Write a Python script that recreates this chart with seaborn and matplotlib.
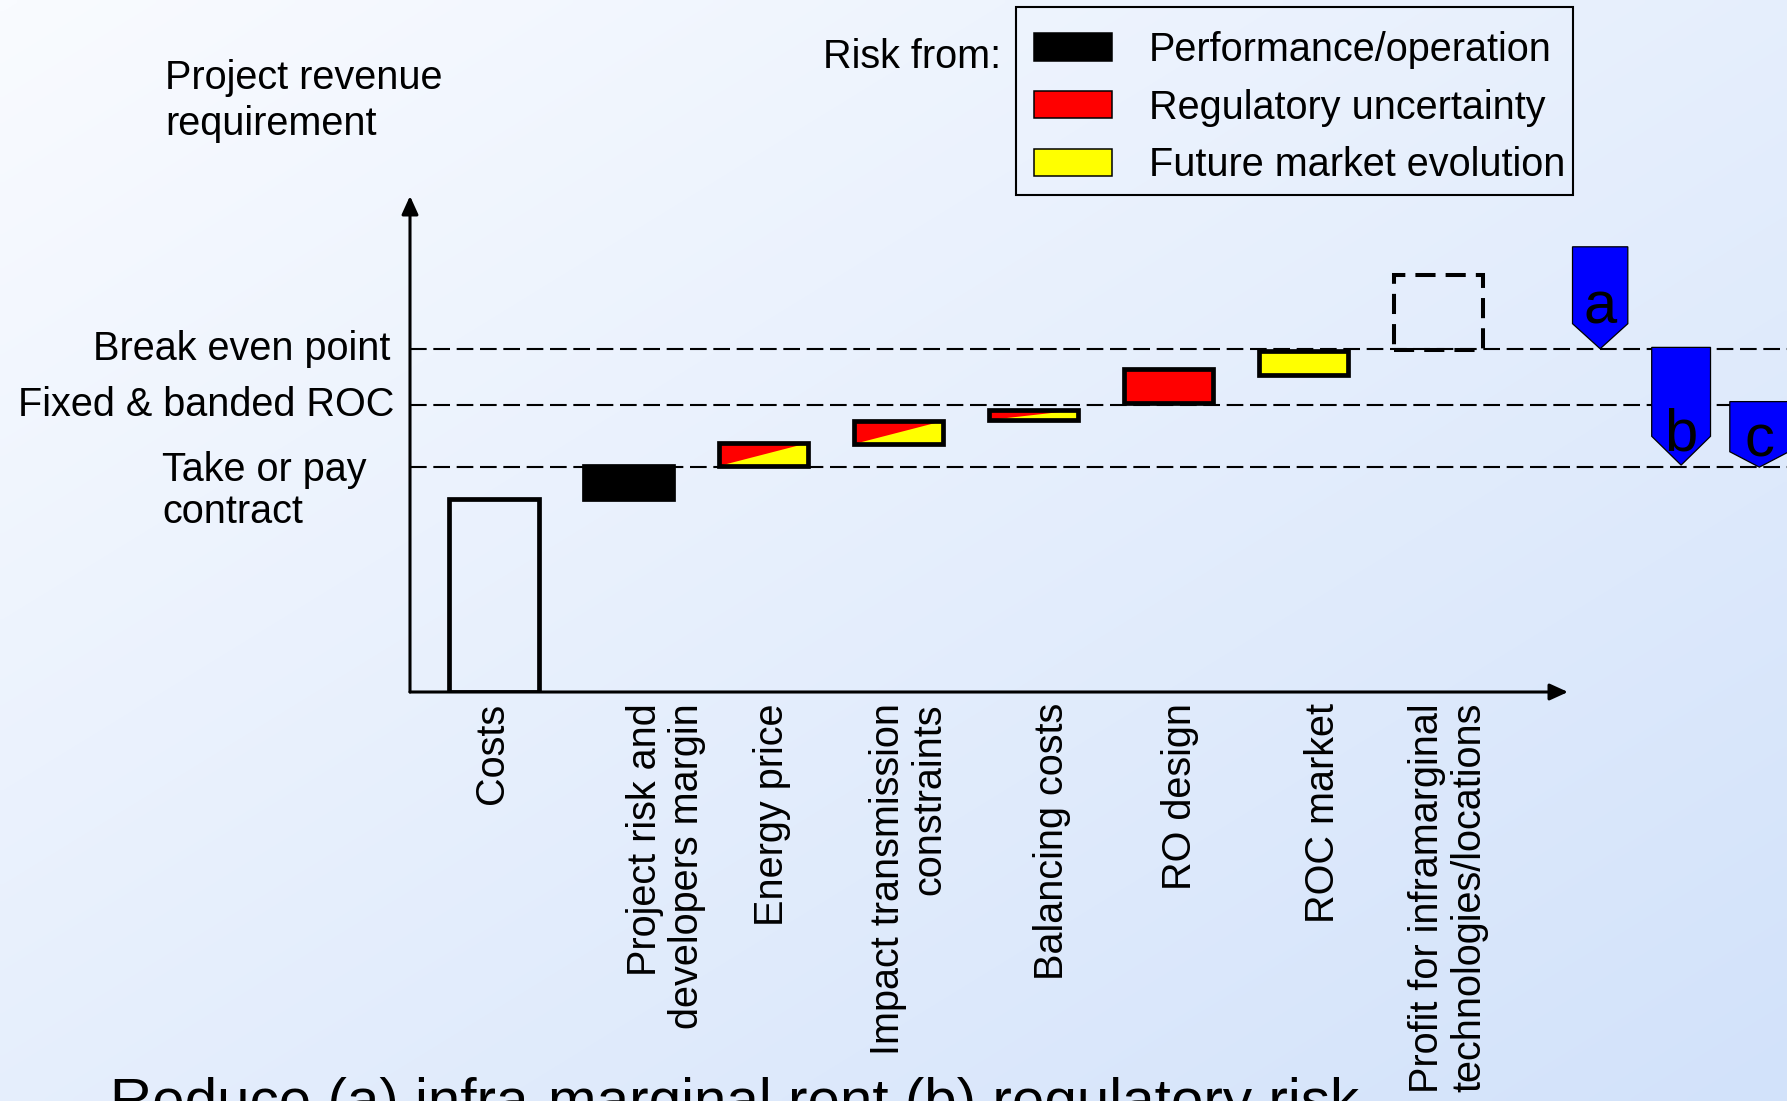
import numpy as np
import pandas as pd
import matplotlib
matplotlib.use("Agg")
import matplotlib.pyplot as plt
import matplotlib.transforms as mtransforms
from matplotlib.colors import LinearSegmentedColormap
from matplotlib.patches import Patch, Polygon, Rectangle
import seaborn as sns

# ---------------------------------------------------------------- data
categories = [
    "Costs",
    "Project risk and\ndevelopers margin",
    "Energy price",
    "Impact transmission\nconstraints",
    "Balancing costs",
    "RO design",
    "ROC market",
    "Profit for inframarginal\ntechnologies/locations",
]
step_start = [0.0, 56.1, 65.7, 72.2, 79.1, 84.3, 92.3, 99.7]
step_end = [56.1, 65.7, 72.4, 79.0, 82.3, 94.1, 99.2, 121.4]
risk_type = ["cost", "performance", "regulatory+market", "regulatory+market",
             "regulatory+market", "regulatory", "market", "inframarginal"]

threshold_labels = ["Break even point", "Fixed & banded ROC", "Take or pay\ncontract"]
threshold_levels = [100.0, 83.5, 65.5]

legend_labels = ["Performance/operation", "Regulatory uncertainty",
                 "Future market evolution"]

lever_letters = ["a", "b", "c"]
lever_from = [129.7, 100.4, 84.6]
lever_to = [100.0, 66.1, 65.5]

# ---------------------------------------------------------------- style
BLACK, RED, YELLOW, BLUE = "#000000", "#FF0000", "#FFFF00", "#0000FF"
FS = 28.5

sns.set_theme(style="white")
plt.rcParams["font.family"] = ["Liberation Sans", "DejaVu Sans"]
plt.rcParams["text.color"] = "black"
plt.rcParams["xtick.color"] = "black"

W, H, DPI = 1787, 1101, 100
fig = plt.figure(figsize=(W / DPI, H / DPI), dpi=DPI)

# soft diagonal backdrop
bg = fig.add_axes([0, 0, 1, 1], zorder=-5)
yy, xx = np.mgrid[0:1:200j, 0:1:300j]
bg.imshow((xx + yy) / 2, cmap=LinearSegmentedColormap.from_list("bg", ["#F9FBFF", "#D2E2FA"]),
          aspect="auto", extent=(0, 1, 0, 1), origin="upper", interpolation="bilinear")
bg.axis("off")

ax = fig.add_axes([410 / W, (H - 692) / H, (W - 410) / W, (692 - 196) / H])
ax.set_facecolor("none")

df = pd.DataFrame({"item": categories, "start": step_start, "end": step_end, "risk": risk_type})
df["size"] = df["end"] - df["start"]

# filled steps of the waterfall
sns.barplot(data=df, x="item", y="size", order=categories, bottom=df["start"].to_numpy(),
            width=0.66, errorbar=None, color="white", linewidth=0, ax=ax, zorder=2)
face_bars = list(ax.patches)
fills = {"cost": "none", "performance": BLACK, "regulatory+market": YELLOW,
         "regulatory": RED, "market": YELLOW, "inframarginal": "none"}
for bar, risk in zip(face_bars, df["risk"]):
    bar.set_facecolor(fills[risk])
    bar.set_edgecolor("none")

# split steps: red upper-left half over the yellow fill
for bar, risk, lo, hi in zip(face_bars, df["risk"], df["start"], df["end"]):
    if risk == "regulatory+market":
        x0 = bar.get_x()
        x1 = x0 + bar.get_width()
        ax.add_patch(Polygon([(x0, lo), (x0, hi), (x1, hi)], closed=True,
                             facecolor=RED, edgecolor="none", zorder=2.5))

# outlines on top
n_before = len(ax.patches)
sns.barplot(data=df, x="item", y="size", order=categories, bottom=df["start"].to_numpy(),
            width=0.66, errorbar=None, color="black", ax=ax, zorder=3)
for bar, risk in zip(ax.patches[n_before:], df["risk"]):
    bar.set_facecolor("none")
    bar.set_edgecolor("black")
    bar.set_linewidth(3.4)
    bar.set_joinstyle("miter")
    if risk == "inframarginal":
        bar.set_linewidth(2.9)
        bar.set_linestyle((0, (5, 2.5)))

# revenue thresholds
label_tf = mtransforms.blended_transform_factory(fig.transFigure, ax.transData)
for text, level in zip(threshold_labels, threshold_levels):
    ax.axhline(level, color="black", lw=1.5, dashes=(8, 3.2), zorder=1)
    if "\n" in text:
        ax.annotate(text, xy=(162 / W, level), xycoords=label_tf, xytext=(0, 11.5),
                    textcoords="offset points", ha="left", va="top",
                    fontsize=FS, linespacing=1.12, annotation_clip=False)
    else:
        right = 390 if level >= 100 else 394
        ax.text(right / W, level, text, transform=label_tf, ha="right",
                va="center", fontsize=FS, clip_on=False)

ax.set_xlim(-0.6227, 9.585)
ax.set_ylim(0, 144.5)

# policy levers a, b, c
lever_slot = [8.2, 8.8, 9.38]
lever_half = [0.205, 0.218, 0.219]
lever_point = [7.3, 8.4, 4.5]
letter_dy = [0.0, -10.0, -3.6]
for letter, top, tip, slot, half, point, dy in zip(lever_letters, lever_from, lever_to,
                                                   lever_slot, lever_half, lever_point, letter_dy):
    shoulder = tip + point
    verts = [(slot - half, top), (slot + half, top), (slot + half, shoulder),
             (slot, tip), (slot - half, shoulder)]
    ax.add_patch(Polygon(verts, closed=True, facecolor=BLUE, edgecolor="black",
                         lw=0.9, zorder=4, clip_on=False))
    ax.annotate(letter, xy=(slot, shoulder), xytext=(0, dy), textcoords="offset points",
                ha="center", va="baseline", fontsize=43, zorder=5, annotation_clip=False)

# axes drawn as arrows
arrow_kw = dict(arrowstyle="-|>,head_length=1.1,head_width=0.5", color="black",
                lw=2.2, shrinkA=0, shrinkB=0, mutation_scale=10)
ax.annotate("", xy=(0, 1), xytext=(0, 0), xycoords="axes fraction", arrowprops=arrow_kw)
ax.annotate("", xy=((1568 - 410) / (W - 410), 0), xytext=(0, 0),
            xycoords="axes fraction", arrowprops=arrow_kw)
for s in ax.spines.values():
    s.set_visible(False)

ax.set_xlabel("")
ax.set_ylabel("")
ax.set_yticks([])
ax.set_xticks(range(len(categories)))
ax.set_xticklabels(categories, rotation=90, ha="center", va="top",
                   fontsize=FS, linespacing=1.12)
ax.tick_params(axis="x", length=0, pad=8)
label_nudge_px = [-2, 37, 8, 10, 18, 12, 20, 10]
for lbl, nudge in zip(ax.get_xticklabels(), label_nudge_px):
    lbl.set_multialignment("right")
    shift = mtransforms.ScaledTranslation(nudge / DPI, 0, fig.dpi_scale_trans)
    lbl.set_transform(lbl.get_transform() + shift)

# figure texts
fig.text(165 / W, 1 - 59 / H, "Project revenue\nrequirement", ha="left", va="top",
         fontsize=FS, linespacing=1.26)
fig.text(1001 / W, 1 - 57 / H, "Risk from:", ha="right", va="center", fontsize=FS)
fig.text(110 / W, -18 / H, "Reduce (a) infra-marginal rent (b) regulatory risk",
         ha="left", va="baseline", fontsize=42)

# risk legend with its own box
handles = [Patch(facecolor=c, edgecolor="black", lw=1.1) for c in (BLACK, RED, YELLOW)]
fig.legend(handles, legend_labels, loc="upper left",
           bbox_to_anchor=(1016 / W, 1 - 13 / H), fontsize=FS,
           handlelength=1.97, handleheight=0.68, handletextpad=0.93,
           labelspacing=0.5, borderpad=0.45, borderaxespad=0, frameon=False)
fig.add_artist(Rectangle((1016 / W, 1 - 195 / H), 557 / W, 188 / H,
                         transform=fig.transFigure, facecolor="none",
                         edgecolor="black", lw=1.5))

fig.savefig("out.png", dpi=DPI)
